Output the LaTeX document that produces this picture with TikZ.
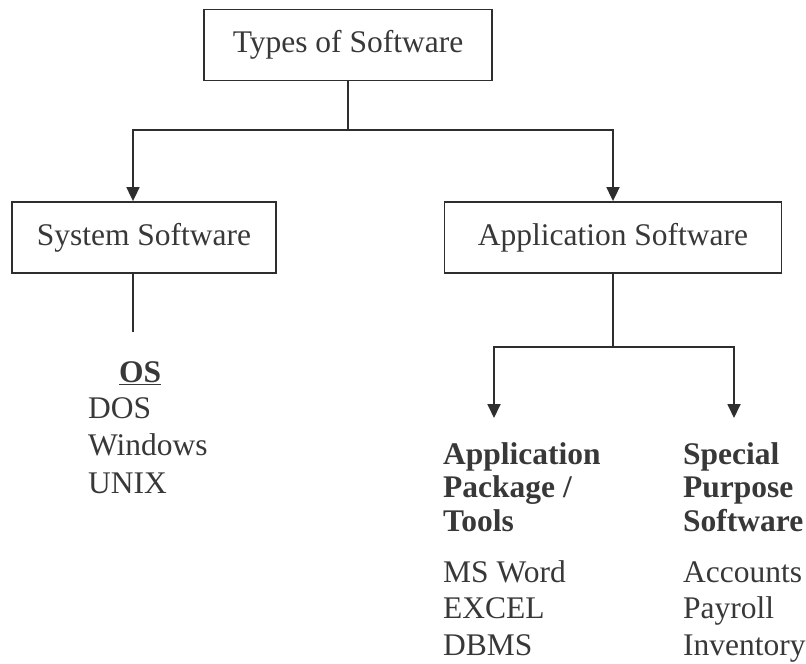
\documentclass[tikz,border=0pt]{standalone}
\usepackage{fontspec}
\setmainfont{Liberation Serif}
\usetikzlibrary{arrows.meta}
\definecolor{ink}{HTML}{2E2E2E}
\definecolor{txt}{HTML}{383838}
\begin{document}
\begin{tikzpicture}[x=1pt,y=-1pt,
  box/.style={draw=ink,line width=1.8pt,minimum height=71pt,inner sep=0pt,text=txt,font=\fontsize{31.5}{36}\selectfont},
  conn/.style={draw=ink,line width=1.8pt},
  arr/.style={conn,-{Triangle[width=13pt,length=14pt]}},
  lbl/.style={anchor=base west,inner sep=0pt,text=txt,align=left,font=\fontsize{31.5}{37.5}\selectfont},
  blbl/.style={lbl,font=\fontsize{31.5}{33.5}\selectfont\bfseries}]
\useasboundingbox (0,0) rectangle (806,664);
\node[box,minimum width=288pt] (top) at (348,45) {Types of Software};
\node[box,minimum width=264pt] (sys) at (144,237.5) {System Software};
\node[box,minimum width=337pt] (app) at (613,237.5) {Application Software};
\coordinate (j1) at (350,130);
\draw[conn] (top.south) -- (top.south |- j1);
\draw[arr] (top.south |- j1) -| ([xshift=-11pt]sys.north);
\draw[arr] (top.south |- j1) -| (app.north);
\coordinate (sysend) at (133,332);
\draw[conn] ([xshift=-11pt]sys.south) -- (sysend);
\node[lbl] (os) at (119,382) {\underline{\textbf{OS}}};
\node[lbl] (oslist) at (88,493) {DOS\\Windows\\UNIX};
\coordinate (j2) at (613,347);
\coordinate (t1) at (494,418);
\coordinate (t2) at (734,418);
\draw[conn] (app.south) -- (j2);
\draw[arr] (j2) -| (t1);
\draw[arr] (j2) -| (t2);
\node[blbl] (apt) at (443,531) {Application\\Package /\\Tools};
\node[blbl] (sps) at (683,531) {Special\\Purpose\\Software};
\node[lbl,font=\fontsize{31.5}{36.5}\selectfont] (aptlist) at (443,655) {MS Word\\EXCEL\\DBMS};
\node[lbl,font=\fontsize{31.5}{36.5}\selectfont] (spslist) at (683,655) {Accounts\\Payroll\\Inventory};
\end{tikzpicture}
\end{document}
